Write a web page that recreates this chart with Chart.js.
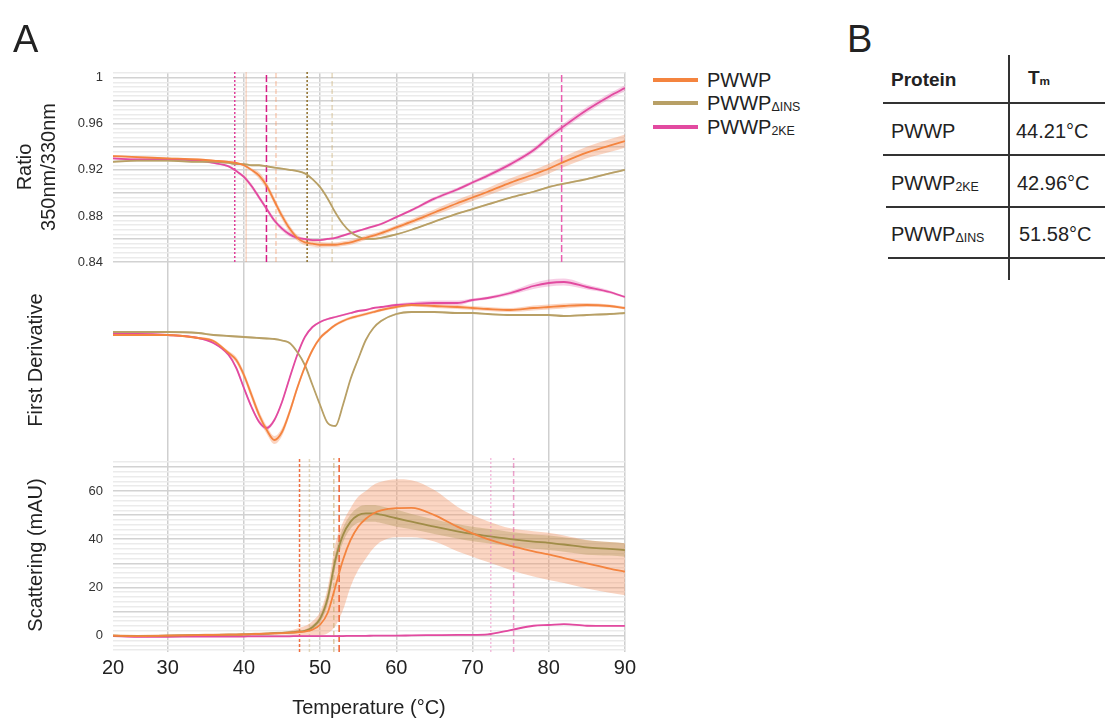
<!DOCTYPE html>
<html>
<head>
<meta charset="utf-8">
<script src="https://cdn.jsdelivr.net/npm/chart.js@4.4.1/dist/chart.umd.min.js"></script>
<style>
  body { margin: 0; background: #fff; font-family: "Liberation Sans", Arial, sans-serif; color: #222; }
  #wrap { position: relative; width: 1105px; height: 720px; overflow: hidden; }
  #chartBox { position: absolute; left: 0; top: 0; width: 640px; height: 720px; }
  .big { position: absolute; font-size: 38px; line-height: 1; }
  .leg { position: absolute; left: 653px; font-size: 20px; line-height: 1; white-space: nowrap; }
  .leg .bar { display: inline-block; width: 45px; height: 4px; vertical-align: middle; margin-right: 9px; position: relative; top: -2px; }
  sub { font-size: 62%; vertical-align: baseline; position: relative; top: 0.05em; }
  .cell { position: absolute; font-size: 20px; line-height: 1; white-space: nowrap; }
  .hl { position: absolute; height: 2px; background: #333; }
  .vl { position: absolute; width: 2px; background: #333; }
</style>
</head>
<body>
<div id="wrap">
  <div id="chartBox"><canvas id="dsfChart"></canvas></div>
  <div class="big" style="left:13px; top:20px;">A</div>
  <div class="big" style="left:847px; top:20px;">B</div>

  <div class="leg" style="top:70px;"><span class="bar" style="background:#f4843f"></span>PWWP</div>
  <div class="leg" style="top:93px;"><span class="bar" style="background:#b8a066"></span>PWWP<sub>ΔINS</sub></div>
  <div class="leg" style="top:117px;"><span class="bar" style="background:#e24aa0"></span>PWWP<sub>2KE</sub></div>

  <!-- Tm table -->
  <div class="vl" style="left:1008px; top:55px; height:225px;"></div>
  <div class="hl" style="left:883px; top:102px; width:222px;"></div>
  <div class="hl" style="left:883px; top:154px; width:222px;"></div>
  <div class="hl" style="left:886px; top:206px; width:219px;"></div>
  <div class="hl" style="left:888px; top:257px; width:217px;"></div>
  <div class="cell" style="left:891px; top:70px; font-weight:bold; font-size:19px;">Protein</div>
  <div class="cell" style="left:1028px; top:68px; font-weight:bold; font-size:19px;">T<sub>m</sub></div>
  <div class="cell" style="left:891px; top:121px;">PWWP</div>
  <div class="cell" style="left:1016px; top:121px;">44.21°C</div>
  <div class="cell" style="left:891px; top:173px;">PWWP<sub>2KE</sub></div>
  <div class="cell" style="left:1017px; top:173px;">42.96°C</div>
  <div class="cell" style="left:891px; top:224px;">PWWP<sub>ΔINS</sub></div>
  <div class="cell" style="left:1019px; top:224px;">51.58°C</div>
</div>

<script>
// temperature grid (°C) shared by all curves
const temps = [22.8, 26, 30, 34, 36, 38, 39, 40, 41, 42, 43, 44, 45, 46, 47, 48, 49, 50, 51, 52,
               53, 54, 55, 56, 57, 58, 60, 62, 65, 68, 70, 72, 75, 78, 80, 82, 85, 88, 90];

// Ratio 350nm/330nm
const ratioPWWP = [0.932, 0.931, 0.930, 0.929, 0.928, 0.927, 0.926, 0.924, 0.920, 0.915, 0.906, 0.893, 0.880, 0.869, 0.861, 0.857, 0.856, 0.855, 0.855, 0.855,
                   0.856, 0.857, 0.859, 0.861, 0.863, 0.865, 0.870, 0.875, 0.883, 0.891, 0.896, 0.901, 0.909, 0.916, 0.921, 0.927, 0.935, 0.941, 0.945];
const ratioPWWPErr = [0.0008, 0.0008, 0.0008, 0.0008, 0.0008, 0.0008, 0.0008, 0.0008, 0.0015, 0.003, 0.003, 0.003, 0.003, 0.003, 0.0025, 0.0025, 0.0025, 0.0025, 0.002, 0.002,
                      0.002, 0.002, 0.002, 0.002, 0.002, 0.002, 0.002, 0.0022, 0.0025, 0.003, 0.003, 0.0033, 0.0038, 0.004, 0.0044, 0.0046, 0.005, 0.0055, 0.0057];
const ratio2KE = [0.930, 0.929, 0.929, 0.928, 0.926, 0.923, 0.919, 0.914, 0.906, 0.896, 0.886, 0.876, 0.869, 0.864, 0.861, 0.860, 0.859, 0.859, 0.860, 0.861,
                  0.863, 0.865, 0.867, 0.869, 0.871, 0.873, 0.879, 0.885, 0.895, 0.903, 0.909, 0.915, 0.925, 0.937, 0.948, 0.958, 0.972, 0.984, 0.991];
const ratio2KEErr = [0.001, 0.001, 0.001, 0.001, 0.001, 0.001, 0.001, 0.0015, 0.002, 0.002, 0.002, 0.002, 0.002, 0.002, 0.0015, 0.001, 0.001, 0.001, 0.001, 0.001,
                     0.001, 0.001, 0.001, 0.001, 0.001, 0.001, 0.001, 0.0012, 0.0015, 0.0015, 0.0015, 0.0018, 0.002, 0.0022, 0.0025, 0.0025, 0.0025, 0.0025, 0.0025];
const ratioDINS = [0.927, 0.928, 0.928, 0.927, 0.927, 0.926, 0.925, 0.925, 0.924, 0.924, 0.923, 0.922, 0.921, 0.920, 0.919, 0.917, 0.912, 0.905, 0.895, 0.883,
                   0.873, 0.866, 0.862, 0.860, 0.860, 0.861, 0.864, 0.868, 0.875, 0.882, 0.886, 0.890, 0.896, 0.901, 0.905, 0.908, 0.912, 0.917, 0.920];
const ratioDINSErr = temps.map(() => 0.0007);

// First derivative (arbitrary units)
const derivPWWP = [-0.2, -0.2, -0.2, -0.5, -0.8, -2.0, -2.7, -4.2, -6.2, -8.2, -9.7, -10.7, -9.9, -7.9, -5.5, -3.4, -1.7, -0.5, 0.2, 0.8,
                   1.2, 1.5, 1.7, 1.9, 2.1, 2.3, 2.6, 2.8, 2.7, 2.6, 2.5, 2.4, 2.3, 2.5, 2.6, 2.7, 2.8, 2.7, 2.5];
const derivPWWPErr = [0.1, 0.1, 0.1, 0.1, 0.15, 0.2, 0.3, 0.35, 0.4, 0.4, 0.4, 0.4, 0.4, 0.35, 0.3, 0.25, 0.2, 0.2, 0.15, 0.15,
                      0.15, 0.15, 0.15, 0.15, 0.15, 0.15, 0.15, 0.15, 0.2, 0.2, 0.2, 0.2, 0.2, 0.25, 0.25, 0.25, 0.2, 0.15, 0.15];
const deriv2KE = [-0.1, -0.1, -0.2, -0.5, -1.0, -2.2, -3.5, -5.5, -7.4, -8.9, -9.5, -8.7, -6.9, -4.5, -2.2, -0.4, 0.6, 1.1, 1.4, 1.6,
                  1.8, 2.0, 2.2, 2.3, 2.5, 2.6, 2.8, 2.9, 3.0, 3.0, 3.3, 3.5, 4.0, 4.7, 5.0, 5.1, 4.6, 4.1, 3.6];
const deriv2KEErr = [0.1, 0.1, 0.1, 0.1, 0.1, 0.15, 0.2, 0.2, 0.2, 0.2, 0.2, 0.2, 0.2, 0.2, 0.15, 0.1, 0.1, 0.1, 0.1, 0.1,
                     0.1, 0.1, 0.1, 0.1, 0.1, 0.1, 0.15, 0.2, 0.25, 0.25, 0.15, 0.15, 0.2, 0.3, 0.35, 0.35, 0.25, 0.15, 0.1];
const derivDINS = [0.1, 0.1, 0.1, 0.0, -0.2, -0.3, -0.35, -0.4, -0.45, -0.5, -0.55, -0.6, -0.75, -1.0, -1.9, -3.2, -5.2, -7.2, -9.0, -9.3,
                   -7.2, -4.6, -2.6, -0.7, 0.5, 1.2, 1.9, 2.1, 2.1, 2.0, 2.0, 1.9, 1.8, 1.8, 1.8, 1.7, 1.8, 1.9, 2.0];
const derivDINSErr = temps.map(() => 0.1);

// Scattering (mAU)
const scatPWWP = [0.0, -0.2, 0.0, 0.2, 0.3, 0.4, 0.4, 0.5, 0.6, 0.7, 0.8, 0.9, 1.0, 1.2, 1.4, 1.7, 2.5, 4.5, 9.5, 20.3,
                  31.4, 39.7, 45.2, 48.5, 50.7, 52.0, 52.9, 53.0, 50.0, 45.2, 42.4, 40.0, 37.2, 35.0, 33.7, 32.2, 30.0, 27.8, 26.5];
const scatPWWPHigh = [0.5, 0.3, 0.5, 0.7, 0.8, 0.9, 0.9, 1.0, 1.1, 1.2, 1.3, 1.4, 1.5, 2.0, 3.0, 4.0, 6.0, 10.0, 20.0, 38.0,
                      47.0, 53.0, 57.6, 60.0, 62.5, 63.8, 64.9, 64.5, 60.4, 53.5, 50.0, 47.5, 44.5, 43.3, 42.7, 41.5, 39.7, 38.8, 38.3];
const scatPWWPLow = [-0.5, -0.7, -0.5, -0.3, -0.2, -0.1, -0.1, 0.0, 0.1, 0.2, 0.3, 0.4, 0.5, 0.4, 0.3, 0.2, 0.2, 0.2, 1.0, 4.0,
                     10.6, 20.3, 27.2, 32.0, 36.2, 39.0, 40.8, 40.8, 39.0, 35.0, 32.7, 30.5, 27.2, 24.5, 23.1, 21.8, 19.6, 17.8, 16.8];
const scatDINS = [0.0, -0.2, 0.0, 0.2, 0.3, 0.4, 0.4, 0.5, 0.6, 0.7, 0.8, 1.0, 1.1, 1.3, 1.6, 2.0, 3.5, 7.0, 15.5, 31.4,
                  41.7, 47.3, 50.0, 50.7, 50.7, 50.2, 48.7, 47.3, 45.2, 43.3, 42.2, 41.3, 40.0, 39.0, 38.5, 37.8, 36.6, 36.0, 35.5];
const scatDINSErr = [0.5, 0.5, 0.5, 0.5, 0.5, 0.5, 0.5, 0.5, 0.5, 0.5, 0.5, 0.5, 0.5, 0.5, 0.5, 0.5, 1.0, 1.5, 2.5, 3.0,
                     3.0, 3.0, 3.2, 3.5, 3.5, 3.5, 3.5, 3.2, 3.0, 3.0, 3.0, 3.0, 3.0, 3.0, 3.0, 3.0, 3.0, 2.8, 2.8];
const scat2KE = [-0.2, -0.5, -0.5, -0.4, -0.4, -0.4, -0.4, -0.4, -0.3, -0.3, -0.3, -0.3, -0.3, -0.3, -0.2, -0.2, -0.2, -0.2, -0.2, -0.2,
                 -0.2, -0.1, -0.1, -0.1, 0.0, 0.0, 0.0, 0.1, 0.2, 0.3, 0.3, 0.5, 2.3, 4.1, 4.4, 4.8, 4.1, 4.0, 4.0];
const scat2KEErr = temps.map(() => 0.2);

// marker lines (°C)
const ratioMarkers = [38.8, 40.3, 42.96, 44.21, 48.3, 51.58, 81.7];
const scatMarkers = [47.3, 48.6, 51.8, 52.5, 72.4, 75.4];

// axis ticks
const xTickLabels = [20, 30, 40, 50, 60, 70, 80, 90];
const ratioTickLabels = [0.84, 0.88, 0.92, 0.96, 1];
const scatTickLabels = [0, 20, 40, 60];

const xMin = 22.82, xMax = 90;
const ratioRange = [0.84, 1.005];
const derivRange = [-12.5, 7.1];
const scatRange = [-6.8, 73.7];

const ORANGE = '#f4843f', ORANGE_BAND = 'rgba(244,145,95,0.38)';
const TAN = '#b8a066', TAN_DARK = '#a08d48', TAN_BAND = 'rgba(168,145,80,0.35)';
const PINK = '#e24aa0', PINK_BAND = 'rgba(230,90,170,0.3)';

const markerStyles = {
    ratio: [
        { color: '#e0409a', dash: [2, 2] },
        { color: 'rgba(244,150,100,0.35)', dash: [] },
        { color: '#d81b84', dash: [7, 3] },
        { color: 'rgba(244,150,100,0.45)', dash: [5, 3] },
        { color: '#8e6f2a', dash: [2, 2] },
        { color: 'rgba(200,170,110,0.45)', dash: [5, 3] },
        { color: '#ea5fb0', dash: [7, 3] }
    ],
    scat: [
        { color: '#f07040', dash: [3, 2] },
        { color: 'rgba(200,170,110,0.45)', dash: [3, 2] },
        { color: 'rgba(200,170,110,0.6)', dash: [5, 3] },
        { color: '#f06030', dash: [7, 3] },
        { color: 'rgba(235,130,190,0.5)', dash: [2, 2] },
        { color: 'rgba(225,100,170,0.6)', dash: [5, 3] }
    ]
};

function pts(vals) {
    return temps.map((t, i) => ({ x: t, y: vals[i] }));
}

const lines = [];
const markers = [];
const bands = [];

function addLine(axis, vals, color, width) {
    lines.push({
        data: pts(vals), yAxisID: axis, borderColor: color, borderWidth: width || 1.8,
        pointRadius: 0, fill: false, cubicInterpolationMode: 'monotone'
    });
}

function addBand(axis, lo, hi, color) {
    bands.push({
        data: pts(hi), yAxisID: axis, borderWidth: 0, pointRadius: 0, fill: false,
        cubicInterpolationMode: 'monotone'
    });
    bands.push({
        data: pts(lo), yAxisID: axis, borderWidth: 0, pointRadius: 0, fill: '-1',
        backgroundColor: color, cubicInterpolationMode: 'monotone'
    });
}

function addMarkers(axis, list, styles, range) {
    list.forEach((t, i) => {
        markers.push({
            data: [{ x: t, y: range[0] }, { x: t, y: range[1] }], yAxisID: axis,
            borderColor: styles[i].color, borderDash: styles[i].dash, borderWidth: 1.5,
            pointRadius: 0, fill: false
        });
    });
}

function plusErr(vals, err, sign) {
    return vals.map((v, i) => v + sign * err[i]);
}

// ratio panel
addLine('yRatio', ratioPWWP, ORANGE);
addLine('yRatio', ratioDINS, TAN);
addLine('yRatio', ratio2KE, PINK);
addBand('yRatio', plusErr(ratioPWWP, ratioPWWPErr, -1), plusErr(ratioPWWP, ratioPWWPErr, 1), ORANGE_BAND);
addBand('yRatio', plusErr(ratioDINS, ratioDINSErr, -1), plusErr(ratioDINS, ratioDINSErr, 1), TAN_BAND);
addBand('yRatio', plusErr(ratio2KE, ratio2KEErr, -1), plusErr(ratio2KE, ratio2KEErr, 1), PINK_BAND);
addMarkers('yRatio', ratioMarkers, markerStyles.ratio, ratioRange);

// derivative panel
addLine('yDeriv', derivPWWP, ORANGE);
addLine('yDeriv', derivDINS, TAN);
addLine('yDeriv', deriv2KE, PINK);
addBand('yDeriv', plusErr(derivPWWP, derivPWWPErr, -1), plusErr(derivPWWP, derivPWWPErr, 1), ORANGE_BAND);
addBand('yDeriv', plusErr(derivDINS, derivDINSErr, -1), plusErr(derivDINS, derivDINSErr, 1), TAN_BAND);
addBand('yDeriv', plusErr(deriv2KE, deriv2KEErr, -1), plusErr(deriv2KE, deriv2KEErr, 1), PINK_BAND);

// scattering panel
addLine('yScat', scatPWWP, ORANGE);
addLine('yScat', scatDINS, TAN_DARK);
addLine('yScat', scat2KE, PINK);
addBand('yScat', plusErr(scatDINS, scatDINSErr, -1), plusErr(scatDINS, scatDINSErr, 1), TAN_BAND);
addBand('yScat', scatPWWPLow, scatPWWPHigh, ORANGE_BAND);
addBand('yScat', plusErr(scat2KE, scat2KEErr, -1), plusErr(scat2KE, scat2KEErr, 1), PINK_BAND);
addMarkers('yScat', scatMarkers, markerStyles.scat, scatRange);

function near(list, v, eps) {
    return list.some(l => Math.abs(l - v) < eps);
}

function gridTicks(lo, hi, step) {
    const out = [];
    for (let k = 0; lo + k * step <= hi + 1e-9; k++) out.push({ value: +(lo + k * step).toFixed(4) });
    return out;
}

const tickFont = { family: 'Liberation Sans', size: 13 };
const titleFont = { family: 'Liberation Sans', size: 20 };

new Chart(document.getElementById('dsfChart'), {
    type: 'line',
    data: { datasets: lines.concat(markers, bands) },
    options: {
        responsive: true,
        maintainAspectRatio: false,
        animation: false,
        layout: { padding: { top: 72, right: 15, left: 0, bottom: 0 } },
        plugins: { legend: { display: false }, tooltip: { enabled: false } },
        scales: {
            x: {
                type: 'linear', min: xMin, max: xMax,
                afterBuildTicks: s => { s.ticks = [{ value: xMin }].concat(xTickLabels.slice(1).map(v => ({ value: v }))); },
                afterFit: s => { s.height = 68; },
                ticks: {
                    autoSkip: false, maxRotation: 0, padding: 4, color: '#222',
                    font: { family: 'Liberation Sans', size: 20 },
                    callback: v => (v < 25 ? '20' : v)
                },
                grid: {
                    drawTicks: false, lineWidth: 1.5,
                    color: c => (c.tick && c.tick.value < 25 ? 'rgba(0,0,0,0)' : '#cfcfcf')
                },
                border: { display: false },
                title: { display: true, text: 'Temperature (°C)', color: '#222', font: titleFont, padding: { top: 0, bottom: 0 } }
            },
            yScat: {
                type: 'linear', position: 'left', stack: 'panels', stackWeight: 194,
                min: scatRange[0], max: scatRange[1],
                afterBuildTicks: s => { s.ticks = gridTicks(-6, 72, 2); },
                afterFit: s => { s.width = 113; },
                ticks: {
                    autoSkip: false, color: '#333', font: tickFont, padding: 10,
                    callback: v => (near(scatTickLabels, v, 0.01) ? String(Math.round(v)) : '')
                },
                grid: {
                    drawTicks: false, lineWidth: 1.5,
                    color: c => (c.tick && Math.abs(c.tick.value / 10 - Math.round(c.tick.value / 10)) < 1e-6 ? '#d2d2d2' : '#ebebeb')
                },
                border: { display: false },
                title: { display: true, text: 'Scattering (mAU)', color: '#222', font: titleFont, padding: { top: 24 } }
            },
            yDeriv: {
                type: 'linear', position: 'left', stack: 'panels', stackWeight: 196,
                min: derivRange[0], max: derivRange[1],
                afterFit: s => { s.width = 113; },
                ticks: { display: false },
                grid: { display: false, drawTicks: false },
                border: { display: false },
                title: { display: true, text: 'First Derivative', color: '#222', font: titleFont, padding: { top: 24 } }
            },
            yRatio: {
                type: 'linear', position: 'left', stack: 'panels', stackWeight: 190,
                min: ratioRange[0], max: ratioRange[1],
                afterBuildTicks: s => { s.ticks = gridTicks(0.84, 1.004, 0.004); },
                afterFit: s => { s.width = 113; },
                ticks: {
                    autoSkip: false, color: '#333', font: tickFont, padding: 10,
                    callback: v => (near(ratioTickLabels, v, 1e-4) ? (Math.abs(v - 1) < 1e-4 ? '1' : v.toFixed(2)) : '')
                },
                grid: {
                    drawTicks: false, lineWidth: 1.5,
                    color: c => (c.tick && Math.abs(c.tick.value * 50 - Math.round(c.tick.value * 50)) < 1e-4 ? '#d2d2d2' : '#ebebeb')
                },
                border: { display: false },
                title: { display: true, text: ['Ratio', '350nm/330nm'], color: '#222', font: titleFont, padding: { top: 13 } }
            }
        }
    }
});
</script>
</body>
</html>
